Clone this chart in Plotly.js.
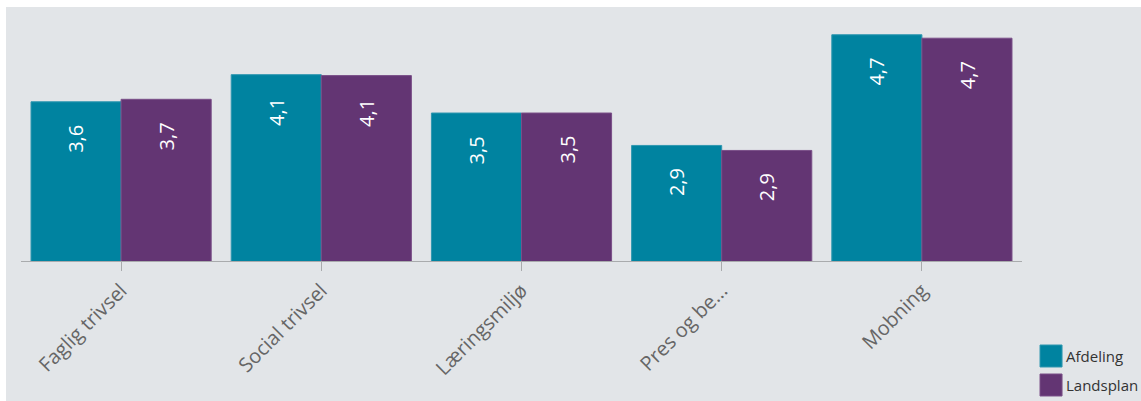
<!DOCTYPE html>
<html>
<head>
<meta charset="utf-8">
<script src="https://cdn.plot.ly/plotly-3.0.1.min.js"></script>
<style>
  html, body { margin: 0; padding: 0; background: #ffffff; width: 1141px; height: 401px; overflow: hidden; }
  #chart { position: absolute; left: 6px; top: 7px; width: 1135px; height: 394px; }
</style>
</head>
<body>
<div id="chart"></div>
<script>
const categories = ["Faglig trivsel", "Social trivsel", "Læringsmiljø", "Pres og be...", "Mobning"];
const seriesNames = ["Afdeling", "Landsplan"];
const afdeling = [3.64, 4.075, 3.46, 2.94, 4.715];
const landsplan = [3.68, 4.06, 3.46, 2.86, 4.66];

const colors = ["#0083a0", "#633573"];
const edge = ["#2f97b0", "#7a4f88"];
const allSeries = [afdeling, landsplan];

const traces = allSeries.map((vals, s) => ({
  type: "bar",
  name: seriesNames[s],
  x: categories,
  y: vals,
  marker: { color: colors[s], line: { color: edge[s], width: 1 } },
  hoverinfo: "skip",
  showlegend: false
}));

const fmt = v => v.toFixed(1).replace(".", ",");
const annotations = [];
const offsets = [-0.225, 0.225];
allSeries.forEach((vals, s) => {
  vals.forEach((v, i) => {
    annotations.push({
      xref: "x", yref: "y",
      x: i + offsets[s], y: v,
      text: fmt(v),
      showarrow: false,
      textangle: -90,
      yanchor: "top",
      xanchor: "center",
      yshift: -21,
      font: { family: "Open Sans, sans-serif", size: 20, color: "#ffffff" }
    });
  });
});

// custom legend (large square swatches)
const shapes = [];
const legY = [[-0.3347, -0.4223], [-0.4502, -0.5378]];
seriesNames.forEach((n, s) => {
  shapes.push({
    type: "rect", xref: "paper", yref: "paper",
    x0: 1.018, x1: 1.040, y0: legY[s][1], y1: legY[s][0],
    fillcolor: colors[s], line: { color: edge[s], width: 1 }
  });
  annotations.push({
    xref: "paper", yref: "paper",
    x: 1.042, y: (legY[s][0] + legY[s][1]) / 2,
    xanchor: "left", yanchor: "middle",
    text: n, showarrow: false,
    font: { family: "Open Sans, sans-serif", size: 15, color: "#333333" }
  });
});

const layout = {
  width: 1135, height: 394,
  margin: { l: 15, r: 119, t: 3, b: 140, pad: 0 },
  paper_bgcolor: "#e2e5e8",
  plot_bgcolor: "#e2e5e8",
  barmode: "group",
  bargap: 0.1,
  bargroupgap: 0,
  showlegend: false,
  xaxis: {
    type: "category",
    tickangle: -45,
    ticks: "outside",
    ticklen: 9,
    tickcolor: "#a9abad",
    showline: true,
    linecolor: "#a9abad",
    linewidth: 1,
    showgrid: false,
    zeroline: false,
    tickfont: { family: "Open Sans, sans-serif", size: 20, color: "#666666" },
    fixedrange: true
  },
  yaxis: {
    range: [1.087, 5.112],
    visible: false,
    showgrid: false,
    zeroline: false,
    fixedrange: true
  },
  annotations: annotations,
  shapes: shapes
};

Plotly.newPlot("chart", traces, layout, { displayModeBar: false, staticPlot: true });
</script>
</body>
</html>
